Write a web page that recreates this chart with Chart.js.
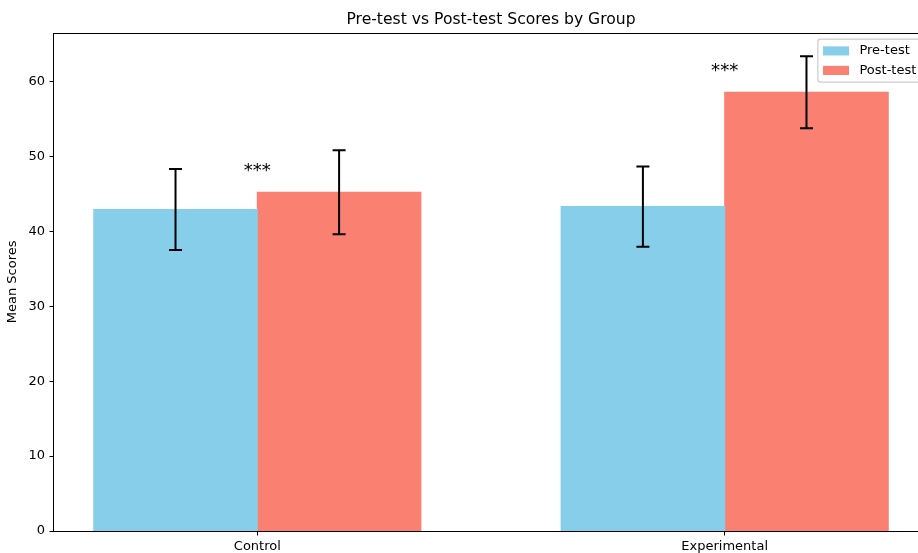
<!DOCTYPE html>
<html>
<head>
<meta charset="utf-8">
<script src="https://cdn.jsdelivr.net/npm/chart.js@4.4.1/dist/chart.umd.min.js"></script>
<style>
  html, body { margin: 0; padding: 0; background: #fff; overflow: hidden; width: 918px; height: 553px; }
  canvas { display: block; }
</style>
</head>
<body>
<canvas id="chart" width="960" height="553"></canvas>
<script>
// Group means with standard errors for the two test sessions
const groups = ['Control', 'Experimental'];
const seriesNames = ['Pre-test', 'Post-test'];
const preMeans = [42.9, 43.3];
const postMeans = [45.2, 58.55];
const preErr = [5.4, 5.35];
const postErr = [5.6, 4.8];
const significance = ['***', '***'];
const yTicks = [0, 10, 20, 30, 40, 50, 60];

const groupPositions = groups.map((_, i) => i);
const seriesMeans = [preMeans, postMeans];
const seriesErr = [preErr, postErr];
const seriesColors = ['#87CEEB', '#FA8072'];

const FONT = "'DejaVu Sans', 'Liberation Sans', sans-serif";
Chart.defaults.font.family = FONT;
Chart.defaults.color = '#000';

// Error bars, frame, significance marks and legend drawn over the bars
const overlay = {
  id: 'overlay',
  afterDatasetsDraw(chart) {
    const { ctx, chartArea: a } = chart;
    const y = chart.scales.y;
    ctx.save();

    // axes frame
    ctx.strokeStyle = '#000';
    ctx.lineWidth = 1;
    ctx.strokeRect(Math.round(a.left) - 0.5, Math.round(a.top) + 0.5,
                   Math.round(a.right - a.left) + 1, Math.round(a.bottom - a.top));

    // error bars
    ctx.lineWidth = 2;
    const cap = 6.5;
    seriesMeans.forEach((means, di) => {
      const meta = chart.getDatasetMeta(di);
      meta.data.forEach((bar, i) => {
        const v = means[i], e = seriesErr[di][i];
        const top = y.getPixelForValue(v + e);
        const bot = y.getPixelForValue(v - e);
        const x = bar.x;
        ctx.beginPath();
        ctx.moveTo(x, top); ctx.lineTo(x, bot);
        ctx.moveTo(x - cap, top); ctx.lineTo(x + cap, top);
        ctx.moveTo(x - cap, bot); ctx.lineTo(x + cap, bot);
        ctx.stroke();
      });
    });

    // significance stars above each group
    const xs = chart.scales.x;
    ctx.fillStyle = '#000';
    ctx.font = '18.2px ' + FONT;
    ctx.textAlign = 'center';
    ctx.textBaseline = 'alphabetic';
    groupPositions.forEach((g, i) => {
      const top = Math.max(preMeans[i], postMeans[i]);
      ctx.fillText(significance[i], xs.getPixelForValue(g), y.getPixelForValue(top + 2) - 1);
    });

    // legend, upper right inside the axes
    const fs = 13;
    ctx.font = fs + 'px ' + FONT;
    const textW = Math.max(...seriesNames.map(s => ctx.measureText(s).width));
    const pad = 0.4 * fs, handleL = 2 * fs, handleH = 0.7 * fs, textPad = 0.8 * fs, rowH = fs, gap = 0.5 * fs;
    const boxW = pad + handleL + textPad + textW + pad;
    const boxH = pad * 2 + rowH * seriesNames.length + gap * (seriesNames.length - 1);
    const bx = a.right - 0.5 * fs - boxW;
    const by = a.top + 0.5 * fs;
    ctx.beginPath();
    ctx.roundRect(bx, by, boxW, boxH, 2.6);
    ctx.fillStyle = 'rgba(255,255,255,0.8)';
    ctx.fill();
    ctx.strokeStyle = '#cccccc';
    ctx.lineWidth = 1.2;
    ctx.stroke();
    ctx.textAlign = 'left';
    ctx.textBaseline = 'middle';
    seriesNames.forEach((name, i) => {
      const cy = by + pad + rowH / 2 + i * (rowH + gap);
      ctx.fillStyle = seriesColors[i];
      ctx.fillRect(bx + pad, cy - handleH / 2, handleL, handleH);
      ctx.fillStyle = '#000';
      ctx.fillText(name, bx + pad + handleL + textPad, cy);
    });

    ctx.restore();
  }
};

new Chart(document.getElementById('chart'), {
  type: 'bar',
  data: {
    datasets: seriesNames.map((name, di) => ({
      label: name,
      data: groupPositions.map((x, i) => ({ x, y: seriesMeans[di][i] })),
      backgroundColor: seriesColors[di],
      borderWidth: 0,
      inflateAmount: 0.5,
      categoryPercentage: 0.7,
      barPercentage: 1.0
    }))
  },
  options: {
    responsive: false,
    animation: false,
    layout: { padding: { left: 0, right: 32, top: 0, bottom: 0 } },
    plugins: {
      legend: { display: false },
      tooltip: { enabled: false },
      title: {
        display: true,
        fullSize: false,
        text: 'Pre-test vs Post-test Scores by Group',
        color: '#000',
        font: { size: 15.6, weight: 'normal' },
        padding: { top: 11, bottom: 3 }
      }
    },
    scales: {
      x: {
        type: 'linear',
        min: -0.435,
        max: 1.435,
        offset: false,
        afterBuildTicks: s => { s.ticks = groupPositions.map(v => ({ value: v })); },
        afterFit: s => { s.height = 22; },
        border: { display: false },
        grid: { display: true, offset: false, drawOnChartArea: false, drawTicks: true, tickLength: 4.5, tickColor: '#000', tickWidth: 1 },
        ticks: { callback: v => groups[v], font: { size: 13 }, color: '#000', padding: 3, maxRotation: 0, autoSkip: false }
      },
      y: {
        min: 0,
        max: 66.5,
        afterBuildTicks: s => { s.ticks = yTicks.map(v => ({ value: v })); },
        afterFit: s => { s.width = 54; },
        border: { display: false },
        grid: { display: true, offset: false, drawOnChartArea: false, drawTicks: true, tickLength: 4.5, tickColor: '#000', tickWidth: 1 },
        ticks: { font: { size: 13 }, color: '#000', padding: 4.5 },
        title: { display: true, text: 'Mean Scores', color: '#000', font: { size: 13 }, padding: { top: 5, bottom: 0 } }
      }
    }
  },
  plugins: [overlay]
});
</script>
</body>
</html>
